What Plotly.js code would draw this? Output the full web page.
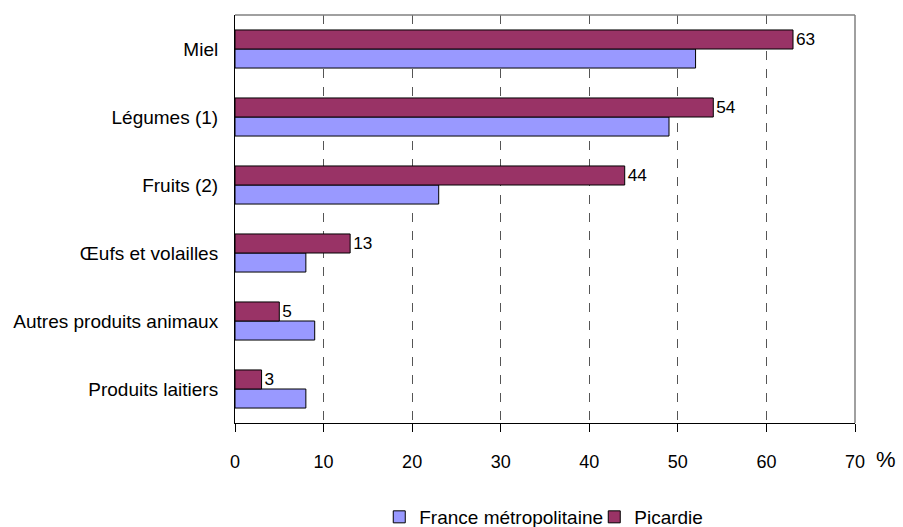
<!DOCTYPE html>
<html>
<head>
<meta charset="utf-8">
<script src="https://cdn.plot.ly/plotly-3.0.1.min.js"></script>
<style>html,body{margin:0;padding:0;background:#fff;}#chart{width:903px;height:527px;}</style>
</head>
<body>
<div id="chart"></div>
<script>
// categories bottom to top
const categories = ["Produits laitiers", "Autres produits animaux", "Œufs et volailles", "Fruits (2)", "Légumes (1)", "Miel"];
const franceValues = [8, 9, 8, 23, 49, 52];
const picardieValues = [3, 5, 13, 44, 54, 63];
const xTicks = [0, 10, 20, 30, 40, 50, 60, 70];

const font = "Liberation Sans, Arial, sans-serif";

const traces = [
  {
    type: "bar", orientation: "h", name: "France métropolitaine",
    y: categories, x: franceValues,
    marker: {color: "#9999FF", line: {color: "#000000", width: 1}},
    hoverinfo: "none"
  },
  {
    type: "bar", orientation: "h", name: "Picardie",
    y: categories, x: picardieValues,
    text: picardieValues.map(String), textposition: "outside",
    textfont: {family: font, size: 19, color: "#000"},
    cliponaxis: false,
    marker: {color: "#993366", line: {color: "#000000", width: 1}},
    hoverinfo: "none"
  }
];

const layout = {
  width: 903, height: 527,
  margin: {l: 235, r: 48, t: 15, b: 104},
  paper_bgcolor: "#fff", plot_bgcolor: "#fff",
  barmode: "group", bargap: 0.44, bargroupgap: 0,
  font: {family: font, size: 19, color: "#000"},
  showlegend: true,
  legend: {orientation: "h", x: 0.42, xref: "container", xanchor: "left",
           y: 0.019, yref: "container", yanchor: "middle",
           font: {family: font, size: 19, color: "#000"}, traceorder: "normal",
           itemwidth: 30, entrywidth: 170, tracegroupgap: 0, bgcolor: "rgba(0,0,0,0)"},
  xaxis: {
    range: [0, 70], tickvals: xTicks, ticktext: xTicks.map(String),
    showgrid: true, gridcolor: "#555", griddash: "dash", gridwidth: 1,
    showline: true, linecolor: "#000", linewidth: 1,
    ticks: "outside", ticklen: 8, tickcolor: "#000", ticklabelstandoff: 14,
    zeroline: false, tickfont: {family: font, size: 18}, automargin: false
  },
  yaxis: {
    type: "category", categoryorder: "array", categoryarray: categories,
    showgrid: false, showline: true, linecolor: "#000", linewidth: 1,
    ticks: "", ticklabelstandoff: 12,
    tickfont: {family: font, size: 19}, automargin: false
  },
  shapes: [
    {type: "line", xref: "paper", yref: "paper", x0: 0, x1: 1, y0: 1, y1: 1, line: {color: "#808080", width: 1.5}},
    {type: "line", xref: "paper", yref: "paper", x0: 1, x1: 1, y0: 0, y1: 1, line: {color: "#808080", width: 1.5}}
  ],
  annotations: [
    {text: "%", xref: "paper", yref: "paper", x: 1.03, y: -0.055, xanchor: "left", yanchor: "top",
     showarrow: false, font: {family: font, size: 22, color: "#000"}}
  ]
};

Plotly.newPlot("chart", traces, layout, {displayModeBar: false, staticPlot: true});
</script>
</body>
</html>
